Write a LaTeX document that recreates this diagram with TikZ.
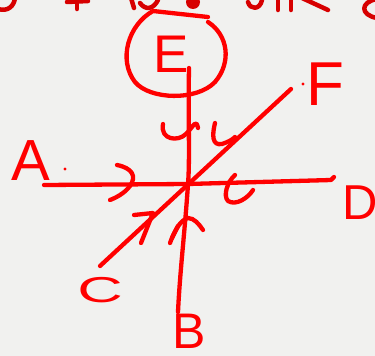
\documentclass[tikz,border=0pt]{standalone}
\usepackage{fontspec}
\setmainfont{Liberation Sans}
\definecolor{board}{RGB}{241,241,239}
\definecolor{ink}{RGB}{255,0,0}
\definecolor{oldink}{RGB}{215,0,0}
\begin{document}
\begin{tikzpicture}[x=1pt,y=-1pt,line cap=round,line join=round]
  \tikzset{
    pen/.style={ink,line width=4.3pt},
    oldpen/.style={oldink,line width=4.5pt},
    lbl/.style={text=ink,inner sep=0pt,font=\fontsize{#1}{#1}\selectfont},
  }
  \fill[board] (0,0) rectangle (375,356);
  \useasboundingbox (0,0) rectangle (375,356);
  % leftover writing, cut off by the top edge
  \begin{scope}
    \clip (0,0) rectangle (375,356);
    \draw[oldpen] (-2,9) .. controls (8,12) and (14,6) .. (15,-2);
    \draw[oldpen] (77,-2) -- (77,9);
    \draw[oldpen] (67,2) -- (88,1);
    \draw[oldpen] (131,-2) -- (134,8);
    \draw[oldpen] (140,3) .. controls (145,10) and (153,10) .. (158,0);
    \fill[oldink] (193,2) circle (7);
    \draw[oldpen] (248,2) .. controls (250,10) and (260,10) .. (262,0);
    \draw[oldpen] (278,-2) -- (278,10);
    \draw[oldpen] (291,-2) -- (291,10);
    \draw[oldpen] (302,-2) -- (328,10);
    \draw[oldpen] (377,-1) .. controls (360,2) and (360,15) .. (377,18);
  \end{scope}
  % circle round E
  \draw[pen] (208,17) -- (153,11) .. controls (128,25) and (118,60) .. (135,82)
     .. controls (150,100) and (197,101) .. (215,82) .. controls (232,62) and (228,35) .. (208,22);
  % the three lines
  \coordinate (lA) at (44,185);
  \coordinate (lD) at (331,180);
  \coordinate (lE) at (189,68);
  \coordinate (lB) at (178,312);
  \coordinate (lC) at (100,266);
  \coordinate (lF) at (291,89);
  \coordinate (O) at (188,184);
  \draw[pen] (lA) -- (O) -- (lD) -- +(3,-3);
  \draw[pen] (lE) .. controls (188,120) and (190,160) .. (O) .. controls (185,230) and (180,270) .. (lB);
  \draw[pen] (lC) -- (lF);
  % marks on the lines
  \draw[pen] (163,124) .. controls (160,140) and (178,142) .. (186,134) .. controls (194,126) and (196,118) .. (198,128);
  \draw[pen] (215,123) .. controls (212,135) and (212,146) .. (222,144) .. controls (228,142) and (232,140) .. (235,137);
  \draw[pen] (117,165) .. controls (132,168) and (137,176) .. (130,186) .. controls (124,194) and (115,198) .. (110,200);
  \draw[pen] (235,175) .. controls (227,182) and (223,196) .. (228,201) .. controls (236,206) and (248,198) .. (253,190);
  \draw[pen] (134,215) -- (153,213) -- (141,243);
  \draw[pen] (170,243) .. controls (174,232) and (180,220) .. (188,218) .. controls (194,218) and (199,224) .. (203,230);
  \draw[pen] (172,238) -- (178,226);
  % dots
  \foreach \p in {(65,169),(303,84)} { \fill[ink] \p circle (1.6); }
  % labels
  \node[lbl=58] (A) at (31,161) {A};
  \node[lbl=53] (E) at (171,54) {E};
  \node[lbl=62] (F) at (325,84) {F};
  \node[lbl=49] (D) at (360,203) {D};
  \node[lbl=36] (C) at (100,290) {\scalebox{1.75}[1]{C}};
  \node[lbl=50] (B) at (189,331) {B};
\end{tikzpicture}
\end{document}
